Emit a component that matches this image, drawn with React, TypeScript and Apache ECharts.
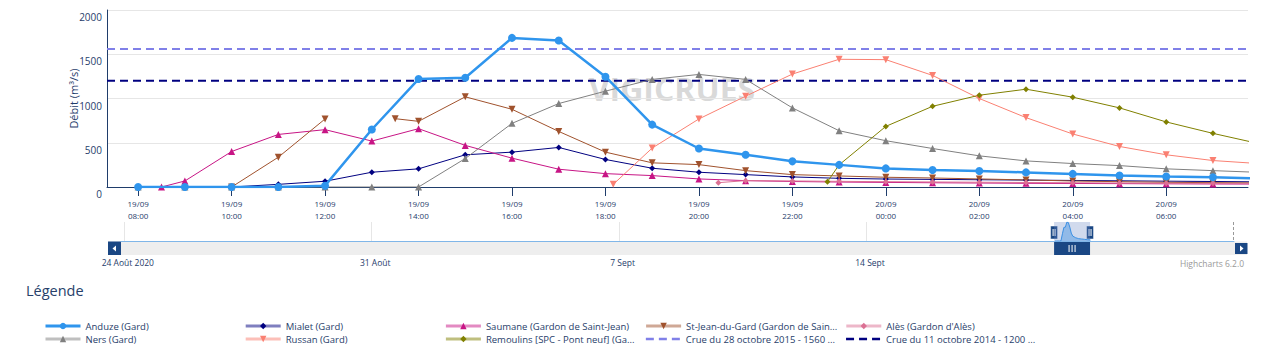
import React, { useEffect, useRef } from 'react';
import * as echarts from 'echarts';

// ---------- data (time "dd/mm hh:mm", value m3/s) ----------
const anduze: [string, number][] = [
  ['19/09 08:00', 0], ['19/09 09:00', 0], ['19/09 10:00', 0], ['19/09 11:00', 0], ['19/09 12:00', 15],
  ['19/09 13:00', 650], ['19/09 14:00', 1220], ['19/09 15:00', 1235], ['19/09 16:00', 1685], ['19/09 17:00', 1655],
  ['19/09 18:00', 1246], ['19/09 19:00', 705], ['19/09 20:00', 435], ['19/09 21:00', 365], ['19/09 22:00', 290],
  ['19/09 23:00', 250], ['20/09 00:00', 210], ['20/09 01:00', 192], ['20/09 02:00', 180], ['20/09 03:00', 165],
  ['20/09 04:00', 148], ['20/09 05:00', 130], ['20/09 06:00', 118], ['20/09 07:00', 110], ['20/09 08:00', 95],
];
const mialet: [string, number][] = [
  ['19/09 08:00', 0], ['19/09 09:00', 0], ['19/09 10:00', 0], ['19/09 11:00', 30], ['19/09 12:00', 65],
  ['19/09 13:00', 167], ['19/09 14:00', 205], ['19/09 15:00', 364], ['19/09 16:00', 394], ['19/09 17:00', 447],
  ['19/09 18:00', 311], ['19/09 19:00', 212], ['19/09 20:00', 167], ['19/09 21:00', 140], ['19/09 22:00', 114],
  ['19/09 23:00', 98], ['20/09 00:00', 90], ['20/09 01:00', 86], ['20/09 02:00', 82], ['20/09 03:00', 78],
  ['20/09 04:00', 74], ['20/09 05:00', 70], ['20/09 06:00', 66], ['20/09 07:00', 62], ['20/09 08:00', 58],
];
const saumane: [string, number][] = [
  ['19/09 08:30', 0], ['19/09 09:00', 68], ['19/09 10:00', 401], ['19/09 11:00', 594], ['19/09 12:00', 648],
  ['19/09 13:00', 519], ['19/09 14:00', 659], ['19/09 15:00', 470], ['19/09 16:00', 326], ['19/09 17:00', 201],
  ['19/09 18:00', 151], ['19/09 19:00', 129], ['19/09 20:00', 91], ['19/09 21:00', 72], ['19/09 22:00', 62],
  ['19/09 23:00', 56], ['20/09 00:00', 52], ['20/09 01:00', 48], ['20/09 02:00', 45], ['20/09 03:00', 42],
  ['20/09 04:00', 40], ['20/09 05:00', 38], ['20/09 06:00', 36], ['20/09 07:00', 34], ['20/09 08:00', 33],
];
const stJean: [string, number | null][] = [
  ['19/09 10:00', 0], ['19/09 11:00', 337], ['19/09 12:00', 769], ['19/09 13:00', null], ['19/09 13:30', 772],
  ['19/09 14:00', 742], ['19/09 15:00', 1019], ['19/09 16:00', 878], ['19/09 17:00', 628], ['19/09 18:00', 394],
  ['19/09 19:00', 273], ['19/09 20:00', 253], ['19/09 21:00', 185], ['19/09 22:00', 140], ['19/09 23:00', 125],
  ['20/09 00:00', 110], ['20/09 01:00', 102], ['20/09 02:00', 91], ['20/09 03:00', 80], ['20/09 04:00', 68],
  ['20/09 05:00', 60], ['20/09 06:00', 53], ['20/09 07:00', 49], ['20/09 08:00', 46],
];
const ales: [string, number][] = [
  ['19/09 20:25', 49], ['19/09 21:00', 72], ['19/09 22:00', 68], ['19/09 23:00', 64], ['20/09 00:00', 60],
  ['20/09 01:00', 57], ['20/09 02:00', 54], ['20/09 03:00', 51], ['20/09 04:00', 48], ['20/09 05:00', 45],
  ['20/09 06:00', 43], ['20/09 07:00', 41], ['20/09 08:00', 40],
];
const ners: [string, number][] = [
  ['19/09 08:00', 0], ['19/09 09:00', 0], ['19/09 10:00', 0], ['19/09 11:00', 0], ['19/09 12:00', 0],
  ['19/09 13:00', 0], ['19/09 14:00', 0], ['19/09 15:00', 322], ['19/09 16:00', 719], ['19/09 17:00', 943],
  ['19/09 18:00', 1083], ['19/09 19:00', 1216], ['19/09 20:00', 1272], ['19/09 21:00', 1216], ['19/09 22:00', 894],
  ['19/09 23:00', 636], ['20/09 00:00', 523], ['20/09 01:00', 435], ['20/09 02:00', 352], ['20/09 03:00', 295],
  ['20/09 04:00', 265], ['20/09 05:00', 242], ['20/09 06:00', 205], ['20/09 07:00', 185], ['20/09 08:00', 165],
];
const russan: [string, number][] = [
  ['19/09 18:10', 30], ['19/09 19:00', 440], ['19/09 20:00', 769], ['19/09 21:00', 1026], ['19/09 22:00', 1276],
  ['19/09 23:00', 1443], ['20/09 00:00', 1439], ['20/09 01:00', 1261], ['20/09 02:00', 1000], ['20/09 03:00', 784],
  ['20/09 04:00', 599], ['20/09 05:00', 458], ['20/09 06:00', 364], ['20/09 07:00', 299], ['20/09 08:00', 264],
];
const remoulins: [string, number][] = [
  ['19/09 22:45', 60], ['19/09 23:00', 250], ['20/09 00:00', 685], ['20/09 01:00', 912], ['20/09 02:00', 1037],
  ['20/09 03:00', 1105], ['20/09 04:00', 1015], ['20/09 05:00', 894], ['20/09 06:00', 735], ['20/09 07:00', 606],
  ['20/09 08:00', 488],
];
const crue2015 = 1560;
const crue2014 = 1200;

const mainRange = ['19/09 07:20', '20/09 07:45'];
const navRange = ['23/08 21:45', '24/09 09:30'];
const navTicks: [string, string][] = [
  ['24/08 00:00', '24 Août 2020'], ['31/08 00:00', '31 Août'], ['07/09 00:00', '7 Sept'], ['14/09 00:00', '14 Sept'],
];

const names = {
  anduze: 'Anduze (Gard)',
  mialet: 'Mialet (Gard)',
  saumane: 'Saumane (Gardon de Saint-Jean)',
  stJean: 'St-Jean-du-Gard (Gardon de Saint-Jean)',
  ales: "Alès (Gardon d'Alès)",
  ners: 'Ners (Gard)',
  russan: 'Russan (Gard)',
  remoulins: 'Remoulins [SPC - Pont neuf] (Gardon)',
  c2015: 'Crue du 28 octobre 2015 - 1560 m³/s',
  c2014: 'Crue du 11 octobre 2014 - 1200 m³/s',
};
const legendLabels: Record<string, string> = {
  [names.anduze]: 'Anduze (Gard)',
  [names.mialet]: 'Mialet (Gard)',
  [names.saumane]: 'Saumane (Gardon de Saint-Jean)',
  [names.stJean]: 'St-Jean-du-Gard (Gardon de Sain...',
  [names.ales]: "Alès (Gardon d'Alès)",
  [names.ners]: 'Ners (Gard)',
  [names.russan]: 'Russan (Gard)',
  [names.remoulins]: 'Remoulins [SPC - Pont neuf] (Ga...',
  [names.c2015]: 'Crue du 28 octobre 2015 - 1560 ...',
  [names.c2014]: 'Crue du 11 octobre 2014 - 1200 ...',
};
const legendRows = [
  [names.anduze, names.mialet, names.saumane, names.stJean, names.ales],
  [names.ners, names.russan, names.remoulins, names.c2015, names.c2014],
];

// ---------- helpers ----------
const parse = (s: string) => {
  const [d, hm] = s.split(' ');
  const [day, mon] = d.split('/').map(Number);
  const [h, m] = hm.split(':').map(Number);
  return Date.UTC(2020, mon - 1, day, h, m);
};
const toData = (arr: [string, number | null][]) => arr.map(([s, v]) => [parse(s), v]);
const pad = (n: number) => (n < 10 ? '0' + n : '' + n);

const AXIS = '#1f3d6b';
const NAVY = '#1a4784';
const FONT = 'Open Sans';

export default function App() {
  const ref = useRef<HTMLDivElement>(null);
  useEffect(() => {
    if (!ref.current) return;
    const chart = echarts.init(ref.current, undefined, { renderer: 'svg' });
    const mainMin = parse(mainRange[0]);
    const mainMax = parse(mainRange[1]);

    const lineDefs = [
      { name: names.anduze, data: anduze, color: '#2f95ed', symbol: 'circle', size: 8, width: 2.5, rot: 0 },
      { name: names.mialet, data: mialet, color: '#000080', symbol: 'diamond', size: 6, width: 1, rot: 0 },
      { name: names.saumane, data: saumane, color: '#c71585', symbol: 'triangle', size: 7, width: 1, rot: 0 },
      { name: names.stJean, data: stJean, color: '#a0522d', symbol: 'triangle', size: 7, width: 1, rot: 180 },
      { name: names.ales, data: ales, color: '#db7093', symbol: 'diamond', size: 6, width: 1, rot: 0 },
      { name: names.ners, data: ners, color: '#808080', symbol: 'triangle', size: 7, width: 1, rot: 0 },
      { name: names.russan, data: russan, color: '#fa8072', symbol: 'triangle', size: 7, width: 1, rot: 180 },
      { name: names.remoulins, data: remoulins, color: '#808000', symbol: 'diamond', size: 6, width: 1, rot: 0 },
    ];
    const thresholds = [
      { name: names.c2015, value: crue2015, color: '#8080e8' },
      { name: names.c2014, value: crue2014, color: '#000080' },
    ];

    const series: any[] = lineDefs.map((d) => ({
      type: 'line',
      name: d.name,
      xAxisIndex: 0,
      yAxisIndex: 0,
      data: toData(d.data as any),
      symbol: d.symbol,
      symbolSize: d.size,
      symbolRotate: d.rot,
      showSymbol: true,
      showAllSymbol: true,
      connectNulls: false,
      color: d.color,
      lineStyle: { color: d.color, width: d.width },
      itemStyle: { color: d.color },
      emphasis: { disabled: true },
      z: d.name === names.anduze ? 3 : 2,
    }));
    thresholds.forEach((th) => {
      series.push({
        type: 'line',
        name: th.name,
        xAxisIndex: 0,
        yAxisIndex: 0,
        data: [[mainMin, th.value], [mainMax, th.value]],
        symbol: 'none',
        color: th.color,
        lineStyle: { color: th.color, width: 2, type: [8, 5] },
        emphasis: { disabled: true },
        z: 1,
      });
    });
    series.push({
      type: 'line',
      name: 'navigator',
      xAxisIndex: 1,
      yAxisIndex: 1,
      data: toData(anduze),
      symbol: 'none',
      lineStyle: { color: '#3a8fe3', width: 1 },
      areaStyle: { color: 'rgba(58,143,227,0.6)' },
      emphasis: { disabled: true },
      markArea: {
        silent: true,
        itemStyle: { color: 'rgba(102,133,194,0.3)' },
        data: [[{ xAxis: mainMin }, { xAxis: mainMax }]],
      },
      markLine: {
        silent: true,
        symbol: ['none', 'none'],
        lineStyle: { color: '#e6e6e6', width: 1, type: 'solid' },
        label: { show: true, position: 'start', distance: 17, color: AXIS, fontSize: 8.5, fontFamily: FONT },
        data: navTicks.map(([s, lab]) => ({ xAxis: parse(s), label: { formatter: lab, offset: [3.5, 0] } })),
      },
    });

    const legends: any[] = [];
    legendRows.forEach((row, r) => {
      row.forEach((n, c) => {
        const isTh = n === names.c2015 || n === names.c2014;
        legends.push({
          left: 44 + c * 200.2,
          top: r === 0 ? 321 : 334,
          padding: 0,
          itemWidth: 35,
          itemHeight: 8,
          selectedMode: false,
          formatter: (nm: string) => legendLabels[nm] || nm,
          textStyle: { fontSize: 9.5, color: '#27406a', fontFamily: FONT, padding: [0, 0, 0, 0] },
          data: [
            {
              name: n,
              lineStyle: { width: isTh ? 2.5 : 3, opacity: n === names.anduze || isTh ? 1 : 0.5 },
              itemStyle: isTh ? { opacity: 0 } : {},
            },
          ],
        });
      });
    });

    chart.setOption({
      animation: false,
      useUTC: true,
      textStyle: { fontFamily: FONT },
      grid: [
        { left: 107, top: 10, width: 1141, height: 177, outerBoundsMode: 'none' },
        { left: 121, top: 222, width: 1113, height: 19, outerBoundsMode: 'none' },
      ],
      xAxis: [
        {
          type: 'time',
          gridIndex: 0,
          min: mainMin,
          max: mainMax,
          splitNumber: 12,
          axisLine: { show: true, lineStyle: { color: AXIS, width: 1 } },
          axisTick: { show: true, length: 9, lineStyle: { color: AXIS } },
          axisLabel: {
            color: AXIS,
            fontSize: 8,
            lineHeight: 12,
            margin: 10,
            showMinLabel: false,
            showMaxLabel: false,
            formatter: (v: number) => {
              const d = new Date(v);
              return `${pad(d.getUTCDate())}/${pad(d.getUTCMonth() + 1)}\n${pad(d.getUTCHours())}:${pad(d.getUTCMinutes())}`;
            },
          },
          splitLine: { show: false },
        },
        {
          type: 'time',
          gridIndex: 1,
          min: parse(navRange[0]),
          max: parse(navRange[1]),
          axisLine: { show: true, lineStyle: { color: '#80b6e8', width: 1 } },
          axisTick: { show: false },
          axisLabel: { show: false },
          splitLine: { show: false },
        },
      ],
      yAxis: [
        {
          type: 'value',
          gridIndex: 0,
          min: 0,
          max: 2000,
          interval: 500,
          axisLine: { show: true, lineStyle: { color: AXIS, width: 1 } },
          axisTick: { show: false },
          axisLabel: {
            color: AXIS, fontSize: 10, margin: 5, verticalAlign: 'top', padding: [2, 0, 0, 0],
            formatter: (v: number) => String(v),
          },
          splitLine: { show: true, lineStyle: { color: '#e6e6e6', width: 1 } },
          name: 'Débit (m³/s)',
          nameLocation: 'middle',
          nameGap: 28,
          nameMoveOverlap: false,
          nameTextStyle: { color: AXIS, fontSize: 11, fontFamily: FONT },
        },
        { type: 'value', gridIndex: 1, min: 0, max: 1700, show: false },
      ],
      legend: legends,
      series,
    });

    const selL = chart.convertToPixel({ xAxisIndex: 1 }, mainMin) as unknown as number;
    const selR = chart.convertToPixel({ xAxisIndex: 1 }, mainMax) as unknown as number;
    const selC = (selL + selR) / 2;
    const handle = (x: number) => [
      { type: 'rect', shape: { x: x - 3.5, y: 226, width: 7, height: 13 }, style: { fill: NAVY, stroke: '#ffffff', lineWidth: 0.5 } },
      { type: 'line', shape: { x1: x - 1, y1: 229, x2: x - 1, y2: 236 }, style: { stroke: '#fff', lineWidth: 1 } },
      { type: 'line', shape: { x1: x + 1, y1: 229, x2: x + 1, y2: 236 }, style: { stroke: '#fff', lineWidth: 1 } },
    ];

    chart.setOption({
      graphic: [
        {
          type: 'text', x: 672, y: 88, z: -1, silent: true,
          style: { text: 'VIGICRUES', fill: 'rgba(180,180,180,0.5)', fontSize: 32, fontWeight: 'bold', fontFamily: FONT, align: 'center', verticalAlign: 'middle' },
        },
        {
          type: 'text', x: 26, y: 290,
          style: { text: 'Légende', fill: '#27406a', fontSize: 14.5, fontFamily: FONT, verticalAlign: 'middle' },
        },
        {
          type: 'text', x: 1244, y: 263,
          style: { text: 'Highcharts 6.2.0', fill: '#999999', fontSize: 8.5, fontFamily: FONT, align: 'right', verticalAlign: 'middle' },
        },
        { type: 'line', shape: { x1: 1233.5, y1: 222, x2: 1233.5, y2: 241 }, style: { stroke: '#999', lineWidth: 1, lineDash: [3, 2] } },
        { type: 'rect', shape: { x: 108, y: 241.5, width: 1139, height: 13.5 }, style: { fill: '#eeeeee' } },
        { type: 'rect', shape: { x: 108, y: 241.5, width: 13, height: 13.5 }, style: { fill: NAVY } },
        { type: 'polygon', shape: { points: [[116, 245.5], [116, 251.5], [112.5, 248.5]] }, style: { fill: '#fff' } },
        { type: 'rect', shape: { x: 1235, y: 243, width: 12.5, height: 11 }, style: { fill: NAVY } },
        { type: 'polygon', shape: { points: [[1240, 245.5], [1240, 251.5], [1243.5, 248.5]] }, style: { fill: '#fff' } },
        { type: 'rect', shape: { x: selL, y: 241.5, width: selR - selL, height: 13.5 }, style: { fill: NAVY } },
        ...[-3, 0, 3].map((dx) => ({ type: 'line', shape: { x1: selC + dx, y1: 245, x2: selC + dx, y2: 252 }, style: { stroke: '#fff', lineWidth: 1 } })),
        ...handle(selL),
        ...handle(selR),
      ],
    });

    return () => chart.dispose();
  }, []);
  return <div ref={ref} style={{ position: 'absolute', left: 0, top: 0, width: 1268, height: 353 }} />;
}
